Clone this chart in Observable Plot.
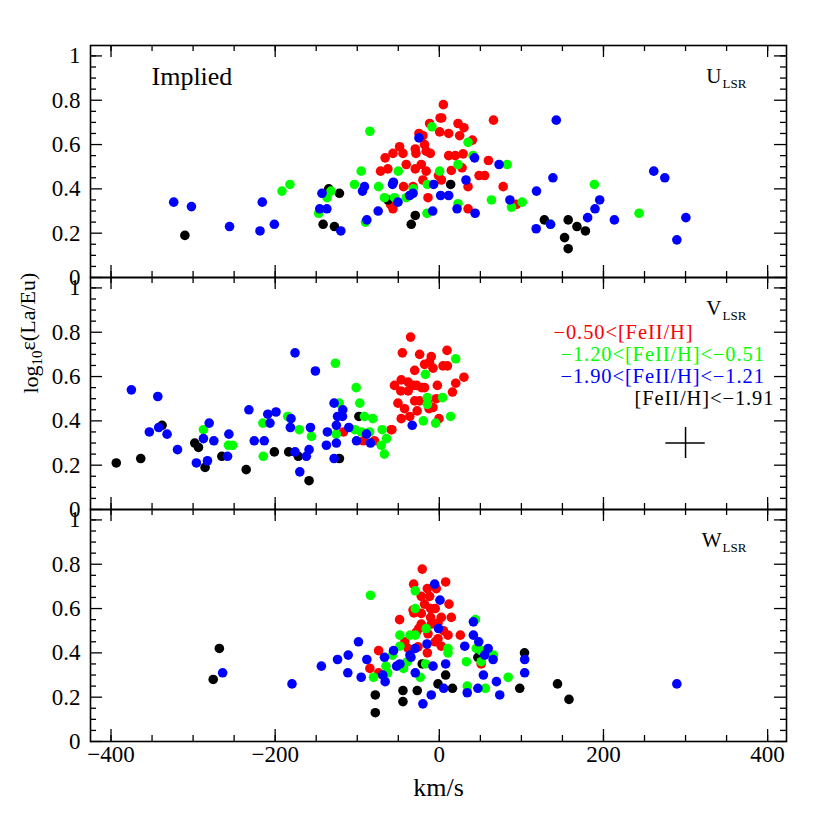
<!DOCTYPE html>
<html><head><meta charset="utf-8">
<script src="https://cdn.jsdelivr.net/npm/d3@7"></script>
<script src="https://cdn.jsdelivr.net/npm/@observablehq/plot@0.6"></script>
<style>body{margin:0;background:#fff;}</style>
</head><body><div id="chart"></div>
<script>
const panels = ["U","V","W"];
const panelSub = "LSR";
const groups = ["red","green","blue","black"];
const groupColor = {red:"#ff0000", green:"#00ff00", blue:"#0000ff", black:"#000000"};
const legendLabels = ["\u22120.50<[FeII/H]", "\u22121.20<[FeII/H]<\u22120.51", "\u22121.90<[FeII/H]<\u22121.21", "[FeII/H]<\u22121.91"];
const xTickLabels = [-400,-200,0,200,400];
const xMinorTicks = [-400,-350,-300,-250,-200,-150,-100,-50,0,50,100,150,200,250,300,350,400];
const yTickLabels = [0,0.2,0.4,0.6,0.8,1];
const yMinorTicks = [0.05,0.1,0.15,0.25,0.3,0.35,0.45,0.5,0.55,0.65,0.7,0.75,0.85,0.9,0.95,1.0];
const yLabel = "log10\u03b5(La/Eu)";
const xLabel = "km/s";
const note = "Implied";
const errBar = [{panel:"V", x:300, y:0.30, ex:24, ey:0.07}];

// U_LSR panel
const uRed = [[-56.5,0.31],[-59.4,0.33],[-43.6,0.41],[-32,0.41],[-13.8,0.36],[-1,0.46],[2.5,0.44],[-11.8,0.695],[1,0.72],[-24.8,0.65],[-20,0.64],[-18,0.60],[-11,0.56],[-16,0.57],[-29.3,0.58],[-28.5,0.56],[-48.4,0.59],[-56.5,0.56],[-44.3,0.56],[-66,0.54],[-40.3,0.51],[-62.7,0.49],[-71.6,0.48],[-22,0.51],[-29.3,0.49],[-16,0.48],[-20,0.44],[4.9,0.78],[2.9,0.72],[66,0.71],[22.8,0.695],[30,0.676],[0.4,0.657],[11.4,0.65],[24.8,0.64],[40.3,0.62],[11.4,0.55],[29,0.558],[19.5,0.55],[14.6,0.483],[27.7,0.495],[59.8,0.528],[48.4,0.46],[55.3,0.46],[35,0.41],[77.8,0.41],[35,0.31],[94,0.33]];
const uGreen = [[-191.7,0.39],[-182,0.42],[-147,0.29],[-136.8,0.36],[-132,0.39],[-84.6,0.66],[-95.2,0.48],[-103.4,0.42],[-74,0.41],[-90,0.25],[-66.8,0.36],[-50,0.48],[-54.6,0.36],[-40.3,0.36],[-31.8,0.40],[-15,0.29],[-14.6,0.42],[0.4,0.48],[-9,0.68],[35,0.61],[41,0.55],[22.8,0.51],[82.6,0.51],[63.5,0.35],[22.8,0.333],[88,0.317],[101,0.34],[188.9,0.42],[243.4,0.29],[135.5,0.24]];
const uBlue = [[-323.6,0.34],[-302,0.32],[-255.6,0.23],[-215.7,0.34],[-218.5,0.21],[-201,0.24],[-145.7,0.31],[-137,0.31],[-143,0.38],[-120,0.21],[-91.2,0.41],[-93.6,0.39],[-88.3,0.26],[-74.5,0.30],[-57,0.42],[-56,0.43],[-50.4,0.34],[-36.2,0.37],[-32,0.38],[-8.1,0.30],[-7,0.42],[-24.8,0.63],[43,0.54],[72.8,0.51],[32.5,0.44],[1.6,0.37],[11.4,0.37],[86,0.35],[21.6,0.31],[43.6,0.29],[118.4,0.39],[138.4,0.45],[142.5,0.71],[118,0.22],[135.5,0.24],[180.7,0.27],[189.7,0.31],[195.4,0.35],[213.3,0.26],[261.3,0.48],[274.7,0.45],[289.4,0.17],[300.4,0.27]];
const uBlack = [[-310,0.19],[-134.7,0.40],[-121.7,0.38],[-141.6,0.24],[-127.8,0.23],[-34.2,0.24],[-29.3,0.28],[-62.7,0.35],[13.8,0.42],[128,0.26],[157,0.26],[167.7,0.23],[178,0.21],[152.6,0.18],[157,0.13]];

// V_LSR panel
const vRed = [[-116.8,0.35],[-92.4,0.31],[-79,0.31],[-58.6,0.36],[-35,0.778],[-45,0.707],[-24,0.70],[-9.8,0.69],[9.4,0.718],[-12,0.665],[-7.7,0.638],[-30,0.628],[4.5,0.648],[9.8,0.648],[30,0.597],[20,0.57],[-2.4,0.56],[16,0.53],[-46.4,0.585],[-54.6,0.56],[-38,0.575],[-27.5,0.56],[-21.5,0.55],[-47,0.535],[-38,0.535],[-30,0.49],[-24,0.49],[-50.4,0.48],[-42.4,0.455],[-27,0.445],[-46.4,0.41],[-36,0.42],[-7.7,0.46],[-3.7,0.50],[-0.4,0.41],[-57.8,0.36],[-18,0.655],[-32,0.56],[-18,0.55],[-13.8,0.48],[-12.5,0.455]];
const vGreen = [[-287.4,0.36],[-256.8,0.29],[-251.9,0.29],[-214.5,0.24],[-215,0.39],[-184.7,0.42],[-170.6,0.36],[-155.8,0.33],[-126.6,0.66],[-122,0.48],[-125.6,0.34],[-101.3,0.55],[-96.9,0.48],[-91.2,0.42],[-81,0.41],[-103,0.36],[-95,0.35],[-85,0.35],[-69.6,0.36],[-64.3,0.32],[-70.8,0.29],[-67,0.25],[20,0.68],[-17,0.61],[-14.6,0.505],[-14.6,0.475],[4,0.505],[-19.5,0.40],[-4.5,0.39],[13.8,0.42]];
const vBlue = [[-375.2,0.54],[-343,0.51],[-353.3,0.35],[-341.9,0.37],[-331.7,0.34],[-319,0.27],[-296,0.21],[-282.5,0.22],[-287.4,0.32],[-280.4,0.39],[-274.7,0.31],[-258,0.24],[-256.4,0.34],[-232,0.45],[-225.5,0.31],[-213.3,0.31],[-209,0.43],[-199,0.44],[-206.3,0.39],[-180.7,0.41],[-181.5,0.37],[-175.8,0.707],[-175.8,0.26],[-170,0.17],[-162,0.24],[-158.7,0.27],[-151,0.625],[-157,0.37],[-137.6,0.29],[-136.4,0.35],[-128.2,0.48],[-117.6,0.45],[-124,0.42],[-118,0.42],[-125.4,0.38],[-125.4,0.30],[-128.2,0.23],[-110.3,0.37],[-100.9,0.31],[-88.7,0.34],[-83.9,0.30],[-33,0.38]];
const vBlack = [[-393.6,0.21],[-363.8,0.23],[-337.8,0.38],[-298,0.30],[-293.4,0.28],[-285.4,0.19],[-265,0.24],[-235.3,0.18],[-201,0.26],[-183.5,0.26],[-171.8,0.24],[-158.7,0.13],[-121.7,0.23],[-98,0.42]];

// W_LSR panel
const wRed = [[-74,0.41],[-84.6,0.33],[-74,0.31],[-48.4,0.55],[-31.3,0.71],[-20.8,0.778],[-31,0.58],[7.7,0.72],[-14.6,0.69],[-3.7,0.69],[-22,0.655],[-11.8,0.655],[11.8,0.62],[-10.6,0.60],[-32,0.593],[-22,0.578],[-10.6,0.56],[2.4,0.56],[14.6,0.56],[-22,0.53],[-9.8,0.53],[-1.6,0.535],[-28,0.493],[-13.8,0.486],[-1.6,0.464],[10.6,0.48],[25.6,0.48],[-42,0.45],[-38,0.42],[-26,0.427],[-14.6,0.40],[2.4,0.43],[51,0.35],[-18,0.62],[-5,0.60],[-25,0.51],[5,0.50],[-5,0.45]];
const wGreen = [[-83.9,0.66],[-80.2,0.29],[-65,0.34],[-63,0.31],[-57,0.39],[-48,0.43],[-48,0.48],[-43.6,0.33],[-39,0.36],[-35.6,0.48],[-29.3,0.48],[-29.3,0.60],[-29.3,0.68],[-16.7,0.35],[-23.2,0.29],[-16,0.51],[10.6,0.42],[10.6,0.40],[33,0.36],[44,0.55],[45,0.42],[51,0.41],[66,0.39],[34,0.25],[56,0.24],[83.9,0.29],[51,0.36]];
const wBlue = [[-264,0.31],[-179.5,0.26],[-143.7,0.34],[-124,0.37],[-111,0.39],[-98.5,0.45],[-111.5,0.31],[-95.2,0.29],[-88.3,0.37],[-68.8,0.30],[-66,0.27],[-66.8,0.38],[-55.8,0.41],[-52,0.34],[-48,0.35],[-35.8,0.39],[-29.3,0.42],[-29.3,0.31],[-20,0.17],[-9.8,0.21],[-7.7,0.34],[-15,0.44],[-5.7,0.71],[0.8,0.638],[-1,0.51],[-34.6,0.38],[7.7,0.35],[5.3,0.24],[31,0.43],[41.5,0.54],[41.5,0.48],[48,0.45],[59.5,0.42],[55.3,0.39],[65.5,0.37],[53.7,0.30],[34,0.22],[47,0.24],[69.6,0.27],[73.6,0.21],[104,0.37],[104,0.31],[289.4,0.26]];
const wBlack = [[-268,0.42],[-275.5,0.28],[-78,0.21],[-78,0.13],[-44.3,0.23],[-44.3,0.18],[-26.9,0.23],[-20.8,0.35],[-1.6,0.26],[7.7,0.30],[16,0.24],[47,0.38],[98,0.24],[103.8,0.40],[144,0.26],[158,0.19]];

const series = [
  {panel:"U", group:"red", pts:uRed}, {panel:"U", group:"green", pts:uGreen}, {panel:"U", group:"blue", pts:uBlue}, {panel:"U", group:"black", pts:uBlack},
  {panel:"V", group:"red", pts:vRed}, {panel:"V", group:"green", pts:vGreen}, {panel:"V", group:"blue", pts:vBlue}, {panel:"V", group:"black", pts:vBlack},
  {panel:"W", group:"red", pts:wRed}, {panel:"W", group:"green", pts:wGreen}, {panel:"W", group:"blue", pts:wBlue}, {panel:"W", group:"black", pts:wBlack}
];
const drawOrder = ["red","black","green","blue"];

const W = 830, H = 830, mL = 90, mR = 44, mT = 45, mB = 89;
const panelH = (H - mT - mB) / 3, panelW = W - mL - mR;
const majLen = 12, minLen = 6;

const dotMarks = drawOrder.map(g => Plot.dot(
  series.filter(s => s.group === g).flatMap(s => s.pts.map(([x, y]) => ({panel: s.panel, x, y}))),
  {x: "x", y: "y", fy: "panel", r: 4.8, fill: groupColor[g], stroke: "none"}
));

const tickMarks = [
  Plot.tickX(xMinorTicks, {x: d => d, insetBottom: panelH - minLen, strokeWidth: 1.3}),
  Plot.tickX(xMinorTicks, {x: d => d, insetTop: panelH - minLen, strokeWidth: 1.3}),
  Plot.tickX(xTickLabels, {x: d => d, insetBottom: panelH - majLen, strokeWidth: 1.3}),
  Plot.tickX(xTickLabels, {x: d => d, insetTop: panelH - majLen, strokeWidth: 1.3}),
  Plot.tickY(yMinorTicks, {y: d => d, insetRight: panelW - minLen, strokeWidth: 1.3}),
  Plot.tickY(yMinorTicks, {y: d => d, insetLeft: panelW - minLen, strokeWidth: 1.3}),
  Plot.tickY(yTickLabels, {y: d => d, insetRight: panelW - majLen, strokeWidth: 1.3}),
  Plot.tickY(yTickLabels, {y: d => d, insetLeft: panelW - majLen, strokeWidth: 1.3})
];

const legendDx = [463, 470, 470, 544];
const legendDy = [55, 77, 98.5, 120.5];
const legendMarks = legendLabels.map((t, i) => Plot.text([{panel: "V", t}], {
  fy: "panel", text: "t", frameAnchor: "top-left", lineAnchor: "middle", dx: legendDx[i], dy: legendDy[i],
  textAnchor: "start", fontSize: 20.5, fill: groupColor[groups[i]]
}));

const fmtMinus = d => d < 0 ? "\u2212" + (-d) : String(d);

const chart = Plot.plot({
  width: W, height: H,
  marginLeft: mL, marginRight: mR, marginTop: mT, marginBottom: mB,
  style: {fontFamily: "'Liberation Serif', serif", fontSize: "23px", background: "white", color: "black"},
  x: {domain: [-425, 423], ticks: xTickLabels, tickFormat: fmtMinus, tickSize: 0, tickPadding: 4, label: null},
  y: {domain: [0, 1.047], ticks: yTickLabels, tickFormat: d => String(d), tickSize: 0, tickPadding: 10, label: null},
  fy: {domain: panels, padding: 0, axis: null, label: null},
  marks: [
    ...dotMarks,
    Plot.ruleY(errBar, {fy: "panel", y: "y", x1: d => d.x - d.ex, x2: d => d.x + d.ex, strokeWidth: 1.5}),
    Plot.ruleX(errBar, {fy: "panel", x: "x", y1: d => d.y - d.ey, y2: d => d.y + d.ey, strokeWidth: 1.5}),
    ...tickMarks,
    Plot.frame({strokeWidth: 1.6}),
    Plot.text([{panel: "U", t: note}], {fy: "panel", text: "t", frameAnchor: "top-left", lineAnchor: "middle", dx: 61, dy: 31, textAnchor: "start", fontSize: 26}),
    Plot.text(panels, {fy: d => d, text: d => d, frameAnchor: "top-right", lineAnchor: "middle", dx: -65, dy: 31, textAnchor: "end", fontSize: 21}),
    Plot.text(panels, {fy: d => d, text: () => panelSub, frameAnchor: "top-right", lineAnchor: "middle", dx: -64, dy: 38, textAnchor: "start", fontSize: 13}),
    ...legendMarks,
    Plot.text([{panel: "V", t: yLabel}], {fy: "panel", text: "t", frameAnchor: "left", lineAnchor: "middle", dx: -60, rotate: -90, fontSize: 22}),
    Plot.text([{panel: "W", t: xLabel}], {fy: "panel", text: "t", frameAnchor: "bottom", lineAnchor: "middle", dy: 46, fontSize: 26})
  ]
});

// subscript "10" in the y label
d3.select(chart).selectAll("text").filter(function() { return this.textContent === yLabel; }).each(function() {
  const t = d3.select(this);
  t.text(null);
  t.append("tspan").text("log");
  t.append("tspan").attr("font-size", "15px").attr("dy", "0.3em").text("10");
  t.append("tspan").attr("dy", "-0.3em").text("\u03b5(La/Eu)");
});
// widen legend lettering like the reference's wide glyphs
d3.select(chart).selectAll("text").filter(function() { return legendLabels.includes(this.textContent); })
  .attr("letter-spacing", "0.9px");

document.getElementById("chart").appendChild(chart);
</script>
</body></html>
